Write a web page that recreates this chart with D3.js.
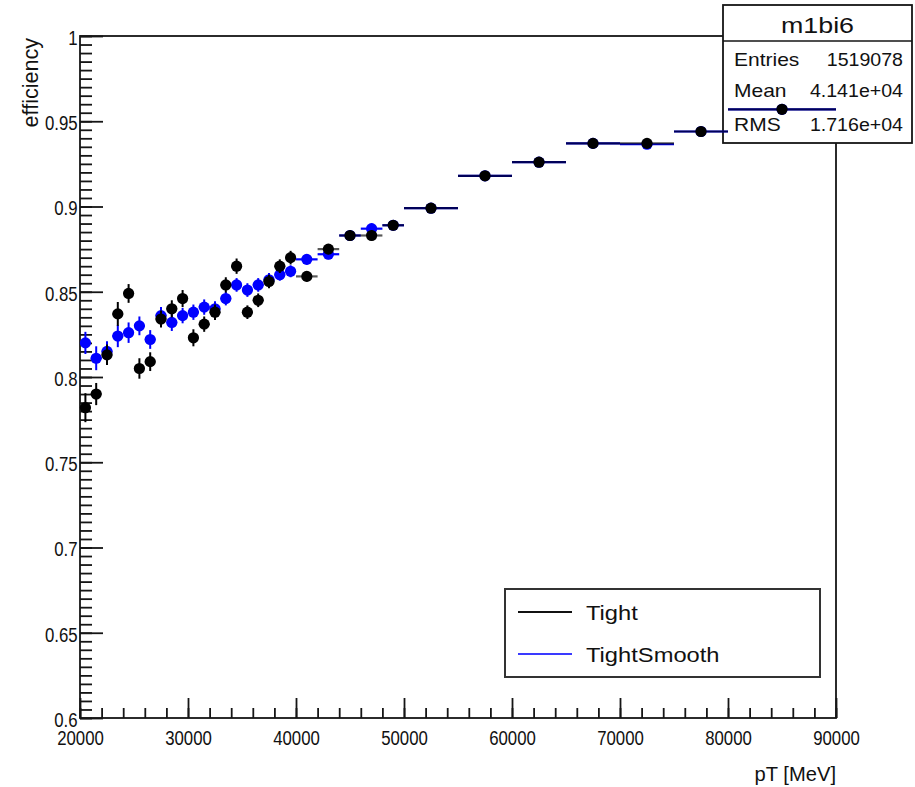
<!DOCTYPE html>
<html>
<head>
<meta charset="utf-8">
<script src="https://cdn.jsdelivr.net/npm/d3@7"></script>
<style>
  html, body { margin: 0; padding: 0; background: #fff; }
  svg text { font-family: "Liberation Sans", Arial, Helvetica, sans-serif; fill: #111; }
</style>
</head>
<body>
<svg id="chart" width="915" height="787"></svg>
<script>
// Bin edges of the pT histogram (MeV)
const binEdges = [
  20000, 21000, 22000, 23000, 24000, 25000, 26000, 27000, 28000, 29000,
  30000, 31000, 32000, 33000, 34000, 35000, 36000, 37000, 38000, 39000,
  40000, 42000, 44000, 46000, 48000, 50000, 55000, 60000, 65000, 70000,
  75000, 80000, 90000
];

// Tight efficiency per bin and its uncertainty
const tightEff = [
  0.782, 0.790, 0.813, 0.837, 0.849, 0.805, 0.809, 0.834, 0.840, 0.846,
  0.823, 0.831, 0.838, 0.854, 0.865, 0.838, 0.845, 0.856, 0.865, 0.870,
  0.859, 0.875, 0.883, 0.883, 0.889, 0.899, 0.918, 0.926, 0.937, 0.937,
  0.944, 0.957
];
const tightErr = [
  0.0085, 0.0065, 0.006, 0.007, 0.0055, 0.006, 0.0055, 0.005, 0.005, 0.005,
  0.005, 0.0045, 0.0045, 0.0045, 0.0045, 0.004, 0.004, 0.004, 0.004, 0.004,
  0.003, 0.003, 0.003, 0.003, 0.003, 0.002, 0.002, 0.002, 0.002, 0.002,
  0.002, 0.002
];

// Smoothed Tight efficiency per bin and its uncertainty
const smoothEff = [
  0.820, 0.811, 0.815, 0.824, 0.826, 0.830, 0.822, 0.836, 0.832, 0.836,
  0.838, 0.841, 0.840, 0.846, 0.854, 0.851, 0.854, 0.857, 0.860, 0.862,
  0.869, 0.872, 0.883, 0.887, 0.889, 0.899, 0.918, 0.926, 0.937, 0.9365,
  0.944, 0.957
];
const smoothErr = [
  0.0065, 0.007, 0.006, 0.0065, 0.006, 0.0055, 0.0055, 0.005, 0.005, 0.0045,
  0.0045, 0.0045, 0.0045, 0.004, 0.004, 0.004, 0.004, 0.004, 0.0035, 0.0035,
  0.003, 0.003, 0.003, 0.003, 0.003, 0.002, 0.002, 0.002, 0.002, 0.002,
  0.002, 0.002
];

const xTickValues = [20000, 30000, 40000, 50000, 60000, 70000, 80000, 90000];
const yTickValues = [0.6, 0.65, 0.7, 0.75, 0.8, 0.85, 0.9, 0.95, 1];
const yTickLabels = ["0.6", "0.65", "0.7", "0.75", "0.8", "0.85", "0.9", "0.95", "1"];
const seriesNames = ["Tight", "TightSmooth"];
const xTitle = "pT [MeV]";
const yTitle = "efficiency";
const statsTitle = "m1bi6";
const statsRows = [["Entries", "1519078"], ["Mean", "4.141e+04"], ["RMS", "1.716e+04"]];

const blue = "#0000ff";
const ink = "#151515";
const tickStretch = 0.8;   // axis numbers are drawn narrow

const svg = d3.select("#chart");
const frame = { left: 80, right: 836, top: 36, bottom: 718 };

const x = d3.scaleLinear().domain([20000, 90000]).range([frame.left, frame.right]);
const y = d3.scaleLinear().domain([0.6, 1]).range([frame.bottom, frame.top]);

function rowsFor(values, errors) {
  return values.map((v, i) => ({
    lo: binEdges[i], hi: binEdges[i + 1],
    mid: (binEdges[i] + binEdges[i + 1]) / 2,
    v: v, e: errors[i]
  }));
}
const tightRows = rowsFor(tightEff, tightErr);
const smoothRows = rowsFor(smoothEff, smoothErr);

function addText(parent, px, py, str, opt) {
  const o = Object.assign({ size: 20, anchor: "start", rotate: 0, sx: 1 }, opt || {});
  return parent.append("text")
    .attr("transform", `translate(${px},${py}) rotate(${o.rotate}) scale(${o.sx},1)`)
    .attr("text-anchor", o.anchor)
    .style("font-size", o.size + "px")
    .text(str);
}

// Frame
svg.append("rect")
  .attr("x", frame.left).attr("y", frame.top)
  .attr("width", frame.right - frame.left).attr("height", frame.bottom - frame.top)
  .attr("fill", "#fff").attr("stroke", ink).attr("stroke-width", 1.8);

// Y axis: minor ticks every 0.005, major every 0.05, pointing into the frame
const yMinor = svg.append("g").attr("transform", `translate(${frame.left},0)`)
  .call(d3.axisLeft(y).tickValues(d3.range(0.6, 1.0001, 0.005)).tickSize(-12).tickFormat(""));
const yMajor = svg.append("g").attr("transform", `translate(${frame.left},0)`)
  .call(d3.axisLeft(y).tickValues(yTickValues).tickSize(-23).tickPadding(3)
    .tickFormat((d, i) => yTickLabels[i]));
[yMinor, yMajor].forEach(g => {
  g.select(".domain").remove();
  g.selectAll(".tick line").attr("stroke", ink).attr("stroke-width", 1.8);
});
yMajor.selectAll(".tick text")
  .attr("fill", ink).attr("dy", "0.4em")
  .style("font-size", "21px")
  .attr("transform", `scale(${tickStretch},1)`);

// X axis: minor ticks every 2000, major every 10000
const xMinor = svg.append("g").attr("transform", `translate(0,${frame.bottom})`)
  .call(d3.axisBottom(x).tickValues(d3.range(20000, 90001, 2000)).tickSize(-10).tickFormat(""));
const xMajor = svg.append("g").attr("transform", `translate(0,${frame.bottom})`)
  .call(d3.axisBottom(x).tickValues(xTickValues).tickSize(-20).tickPadding(6)
    .tickFormat(d3.format("d")));
[xMinor, xMajor].forEach(g => {
  g.select(".domain").remove();
  g.selectAll(".tick line").attr("stroke", ink).attr("stroke-width", 1.8);
});
xMajor.selectAll(".tick text")
  .attr("fill", ink).attr("y", 27).attr("dy", 0)
  .style("font-size", "21px")
  .attr("transform", `scale(${tickStretch},1)`);

// Axis titles
addText(svg, frame.right, 781, xTitle, { anchor: "end", size: 21, sx: 0.96 });
addText(svg, 38, frame.top + 2, yTitle, { anchor: "end", size: 22, rotate: -90, sx: 0.98 });

// Statistics box
const stats = svg.append("g");
const sb = { x0: 723, x1: 912, y0: 5, y1: 143, sep: 41 };
stats.append("rect")
  .attr("x", sb.x0).attr("y", sb.y0)
  .attr("width", sb.x1 - sb.x0).attr("height", sb.y1 - sb.y0)
  .attr("fill", "#fff").attr("stroke", ink).attr("stroke-width", 1.8);
stats.append("line")
  .attr("x1", sb.x0).attr("x2", sb.x1).attr("y1", sb.sep).attr("y2", sb.sep)
  .attr("stroke", ink).attr("stroke-width", 1.5);
addText(stats, (sb.x0 + sb.x1) / 2, 33, statsTitle, { anchor: "middle", size: 22, sx: 1.22 });
const rowBase = [66, 97, 131];
statsRows.forEach((r, i) => {
  addText(stats, 734, rowBase[i], r[0], { size: 17.5, sx: 1.2 });
  addText(stats, 903, rowBase[i], r[1], { size: 17.5, anchor: "end", sx: 1.12 });
});

// Data layers: smoothed series underneath, Tight on top
function drawSeries(rows, color, lineOpacity) {
  const g = svg.append("g");
  g.selectAll("line.xerr").data(rows).join("line")
    .attr("class", "xerr")
    .attr("x1", d => x(d.lo)).attr("x2", d => x(d.hi))
    .attr("y1", d => y(d.v)).attr("y2", d => y(d.v))
    .attr("stroke", color).attr("stroke-width", 2.2).attr("stroke-opacity", lineOpacity);
  g.selectAll("line.yerr").data(rows).join("line")
    .attr("class", "yerr")
    .attr("x1", d => x(d.mid)).attr("x2", d => x(d.mid))
    .attr("y1", d => y(d.v - d.e)).attr("y2", d => y(d.v + d.e))
    .attr("stroke", color).attr("stroke-width", 2);
  g.selectAll("circle").data(rows).join("circle")
    .attr("cx", d => x(d.mid)).attr("cy", d => y(d.v))
    .attr("r", 5.6).attr("fill", color);
}
drawSeries(smoothRows, blue, 1);
drawSeries(tightRows, "#000", 0.65);

// Legend
const lg = svg.append("g");
lg.append("rect")
  .attr("x", 505).attr("y", 589).attr("width", 315).attr("height", 88)
  .attr("fill", "#fff").attr("stroke", "#333").attr("stroke-width", 2);
const legendColors = ["#111", "#3a3aff"];
const legendY = [612, 654];
seriesNames.forEach((name, i) => {
  lg.append("line")
    .attr("x1", 518).attr("x2", 572).attr("y1", legendY[i]).attr("y2", legendY[i])
    .attr("stroke", legendColors[i]).attr("stroke-width", 2);
  addText(lg, 586, legendY[i] + 8, name, { size: 21, sx: 1.13 });
});
</script>
</body>
</html>
